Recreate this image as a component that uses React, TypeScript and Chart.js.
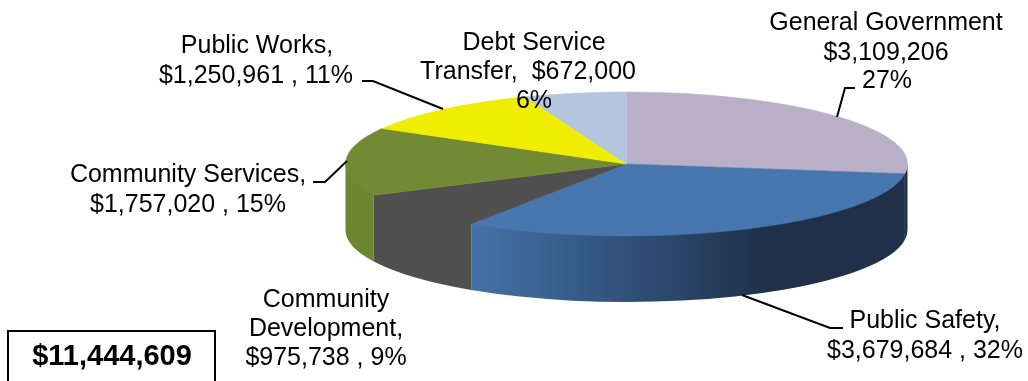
import React, { useEffect, useRef } from "react";
import { Chart, registerables } from "chart.js";

Chart.register(...registerables);

const categories = [
  "General Government",
  "Public Safety",
  "Community Development",
  "Community Services",
  "Public Works",
  "Debt Service Transfer",
];
const amounts = [3109206, 3679684, 975738, 1757020, 1250961, 672000];
const topColors = ["#b9afc6", "#4877b0", "#505050", "#718a33", "#efee00", "#b4c6de"];
const wallColors = ["#1f3048", "#4472a8", "#505050", "#6d8730", "#b3b200", "#87949f"];
const totalLabel = "$11,444,609";

const labelLines = [
  ["General Government", "$3,109,206", "27%"],
  ["Public Safety,", "$3,679,684 , 32%"],
  ["Community", "Development,", "$975,738 , 9%"],
  ["Community Services,", "$1,757,020 , 15%"],
  ["Public Works,", "$1,250,961 , 11%"],
  ["Debt Service", "Transfer,  $672,000", "6%"],
];

const FONT = '25px "Liberation Sans", Arial, sans-serif';
const TOTAL_FONT = 'bold 29px "Liberation Sans", Arial, sans-serif';
const RX = 281;
const RY = 72;
const DEPTH = 66;

// Centre x and baseline y of every line of every label.
const labelAnchors: number[][][] = [
  [[886, 30], [886, 60], [887, 88]],
  [[925, 328], [925, 358]],
  [[326, 307], [326, 336], [326, 365]],
  [[188, 182], [188, 212]],
  [[257, 53], [256, 83]],
  [[534, 50], [528, 79], [534, 108]],
];

const leaders: number[][][] = [
  [[855, 88], [845, 88], [837, 117]],
  [[843, 328], [830, 328], [742, 295]],
  [[313, 182], [325, 182], [347, 161]],
  [[362, 81], [373, 81], [443, 109]],
];

const pie3d = {
  id: "pie3d",
  beforeDatasetDraw(chart: any) {
    const { ctx } = chart;
    const arcs = chart.getDatasetMeta(0).data;
    const { x: cx, y: cy, outerRadius: R } = arcs[0];
    // Walls of the disc: only the front half of the rim is visible.
    arcs.forEach((arc: any, i: number) => {
      const norm = (a: number) => ((a % (2 * Math.PI)) + 2 * Math.PI) % (2 * Math.PI);
      const a0 = norm(arc.startAngle);
      const a1 = a0 + (arc.endAngle - arc.startAngle);
      const ranges = [[a0, a1], [a0 - 2 * Math.PI, a1 - 2 * Math.PI]];
      ranges.forEach(([s, e]) => {
        const from = Math.max(s, 0);
        const to = Math.min(e, Math.PI);
        if (to <= from) return;
        ctx.save();
        ctx.beginPath();
        // Start one pixel up so no pale seam shows under the top face.
        ctx.ellipse(cx, cy - 1, RX, RY, 0, from, to);
        ctx.ellipse(cx, cy + DEPTH, RX, RY, 0, to, from, true);
        ctx.closePath();
        if (i === 1) {
          const g = ctx.createLinearGradient(472, 0, 770, 0);
          g.addColorStop(0, "#4472a8");
          g.addColorStop(0.5, "#31527b");
          g.addColorStop(1, "#1f3048");
          ctx.fillStyle = g;
        } else {
          ctx.fillStyle = wallColors[i];
        }
        ctx.fill();
        ctx.restore();
      });
    });
    // Flatten the library's circular arcs into the tilted top face.
    ctx.save();
    ctx.translate(cx, cy);
    ctx.scale(RX / R, RY / R);
    ctx.translate(-cx, -cy);
  },
  afterDatasetDraw(chart: any) {
    chart.ctx.restore();
  },
  afterDraw(chart: any) {
    const { ctx } = chart;
    ctx.save();
    ctx.strokeStyle = "#000";
    ctx.lineWidth = 2;
    leaders.forEach((pts) => {
      ctx.beginPath();
      pts.forEach(([x, y], k) => (k ? ctx.lineTo(x, y) : ctx.moveTo(x, y)));
      ctx.stroke();
    });
    ctx.fillStyle = "#000";
    ctx.font = FONT;
    ctx.textAlign = "center";
    ctx.textBaseline = "alphabetic";
    labelLines.forEach((lines, i) => {
      lines.forEach((t, k) => {
        const [x, y] = labelAnchors[i][k];
        ctx.fillText(t, x, y);
      });
    });
    ctx.strokeRect(8, 331, 207, 60);
    ctx.font = TOTAL_FONT;
    ctx.fillText(totalLabel, 112, 365);
    ctx.restore();
  },
};

export default function App() {
  const ref = useRef<HTMLCanvasElement>(null);
  useEffect(() => {
    document.body.style.margin = "0";
    const chart = new Chart(ref.current!, {
      type: "pie",
      data: {
        labels: categories,
        datasets: [
          { data: amounts, backgroundColor: topColors, borderColor: topColors, borderWidth: 0.5, clip: false } as any,
        ],
      },
      options: {
        responsive: false,
        animation: false,
        layout: { padding: { left: 225, right: 0, top: 0, bottom: 53 } },
        plugins: { legend: { display: false }, tooltip: { enabled: false } },
      },
      plugins: [pie3d],
    });
    return () => chart.destroy();
  }, []);
  return <canvas ref={ref} width={1028} height={381} style={{ display: "block" }} />;
}
